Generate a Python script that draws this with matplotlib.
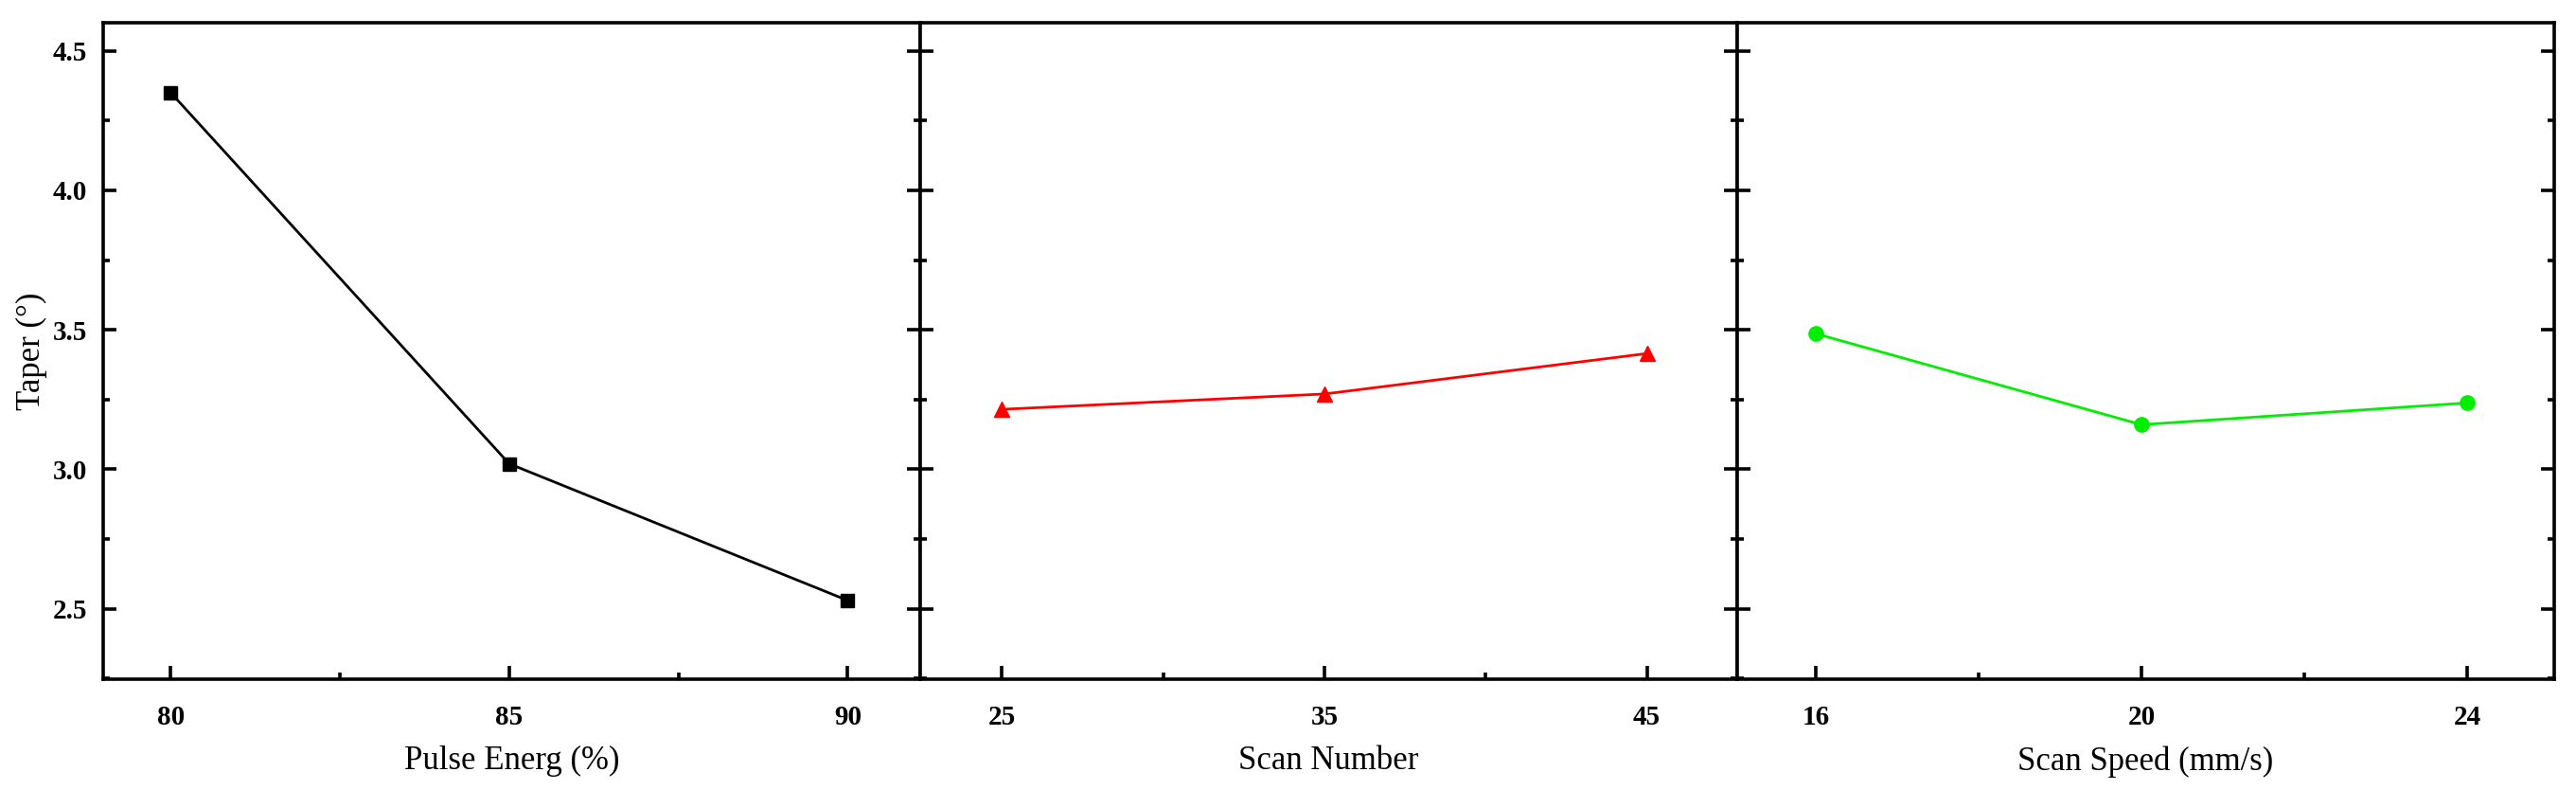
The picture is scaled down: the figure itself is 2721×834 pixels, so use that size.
import matplotlib.pyplot as plt
from matplotlib.ticker import MultipleLocator

plt.rcParams['font.family'] = ['Liberation Serif', 'DejaVu Serif']

# datos
energia = [80, 85, 90]
taper_energia = [4.35, 3.02, 2.53]

escaneos = [25, 35, 45]
taper_escaneos = [3.215, 3.27, 3.415]

velocidad = [16, 20, 24]
taper_velocidad = [3.486, 3.16, 3.238]

fig, axs = plt.subplots(1, 3, figsize=(27.21, 8.34), dpi=100, sharey=True)
fig.subplots_adjust(left=0.040, right=0.9915, top=0.971, bottom=0.140, wspace=0)

paneles = [
    (energia, taper_energia, 'k', 's', 10, "Pulse Energ (%)", (79, 91.07), 5),
    (escaneos, taper_escaneos, '#ff0000', '^', 12, "Scan Number", (22.46, 47.8), 10),
    (velocidad, taper_velocidad, '#00ee00', 'o', 11, "Scan Speed (mm/s)", (15.03, 25.07), 4),
]

for ax, (x, y, color, marca, tam, etiqueta, limites, paso) in zip(axs, paneles):
    ax.plot(x, y, color=color, marker=marca, markersize=tam, lw=2.0)
    ax.set_xlim(*limites)
    ax.set_ylim(2.247, 4.6)
    ax.set_xticks(x)
    ax.xaxis.set_minor_locator(MultipleLocator(paso / 2))
    ax.yaxis.set_major_locator(MultipleLocator(0.5))
    ax.yaxis.set_minor_locator(MultipleLocator(0.25))
    ax.set_xlabel(etiqueta, fontsize=25, labelpad=12)
    for s in ax.spines.values():
        s.set_linewidth(2.6)
    ax.tick_params(which='both', direction='in', left=True, right=True, top=False, width=2.6)
    ax.tick_params(which='major', length=10)
    ax.tick_params(which='minor', length=5)
    ax.tick_params(axis='x', which='major', pad=19)
    ax.tick_params(axis='y', which='major', pad=12)
    for t in ax.get_xticklabels() + ax.get_yticklabels():
        t.set_fontsize(21)
        t.set_fontweight('bold')

axs[0].set_ylabel("Taper (°)", fontsize=25, labelpad=4)
axs[0].yaxis.set_major_formatter(plt.FormatStrFormatter('%.1f'))

fig.savefig("out.png", dpi=100)
